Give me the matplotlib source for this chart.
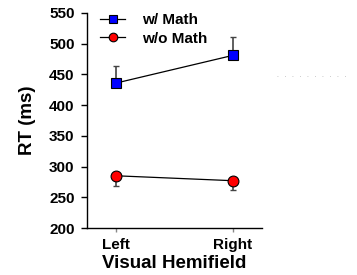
import matplotlib
matplotlib.use("Agg")
import matplotlib.pyplot as plt
from matplotlib.lines import Line2D

categories = ["Left", "Right"]
with_math = [436, 481]
with_math_err = [27, 30]
without_math = [285, 277]
without_math_err = [17, 15]
yticks = [200, 250, 300, 350, 400, 450, 500, 550]

plt.rcParams['font.family'] = ['Liberation Sans', 'DejaVu Sans']
plt.rcParams['font.weight'] = 'bold'

fig = plt.figure(figsize=(3.57, 2.75), dpi=100)
ax = fig.add_axes([87/357, 1 - 228/275, (262-87)/357, (228-13)/275])

x = list(range(len(categories)))
ax.errorbar(x, with_math, yerr=[[0]*2, with_math_err], fmt='none', ecolor='#444444',
            elinewidth=1.2, capsize=2, capthick=1, zorder=2)
ax.errorbar(x, without_math, yerr=[without_math_err, [0]*2], fmt='none', ecolor='#444444',
            elinewidth=1.2, capsize=2, capthick=1, zorder=2)
ax.plot(x, with_math, color='black', lw=0.9, marker='s', markersize=6.8,
        markerfacecolor='#0000ff', markeredgecolor='black', markeredgewidth=0.8, zorder=3)
ax.plot(x, without_math, color='black', lw=0.9, marker='o', markersize=7.8,
        markerfacecolor='#ff0000', markeredgecolor='black', markeredgewidth=0.8, zorder=3)

ax.set_xlim(-0.25, 1.25)
ax.set_ylim(200, 550)
ax.set_yticks(yticks)
ax.set_xticks(x)
ax.set_xticklabels(categories, fontsize=11, fontweight='bold')
ax.tick_params(axis='y', labelsize=11, direction='out', length=4, width=1, pad=5)
ax.tick_params(axis='x', direction='out', length=3, width=1, color='#888888', pad=4)
for t in ax.get_yticklabels():
    t.set_fontweight('bold')
ax.spines['top'].set_visible(False)
ax.spines['right'].set_visible(False)
ax.spines['left'].set_linewidth(1)
ax.spines['bottom'].set_linewidth(1)

ax.set_xlabel('Visual Hemifield', fontsize=13.5, fontweight='bold', labelpad=2)
ax.set_ylabel('RT (ms)', fontsize=13.5, fontweight='bold', labelpad=9)

handles = [
    Line2D([], [], color='black', lw=0.9, marker='s', markersize=5.2,
           markerfacecolor='#0000ff', markeredgecolor='black', markeredgewidth=0.8),
    Line2D([], [], color='black', lw=0.9, marker='o', markersize=6.2,
           markerfacecolor='#ff0000', markeredgecolor='black', markeredgewidth=0.8),
]
ax.legend(handles, ['w/ Math', 'w/o Math'], loc='upper left',
          bbox_to_anchor=(13/175, 1.0), frameon=False,
          prop={'weight': 'bold', 'size': 11}, handlelength=1.65,
          labelspacing=0.3, handletextpad=1.1, borderaxespad=0, borderpad=0)

fig.add_artist(Line2D([277/357, 352/357], [1-76/275, 1-76/275], color='#bbbbbb',
                      lw=0.6, linestyle=(0, (1, 8))))

fig.savefig('out.png', dpi=100)
